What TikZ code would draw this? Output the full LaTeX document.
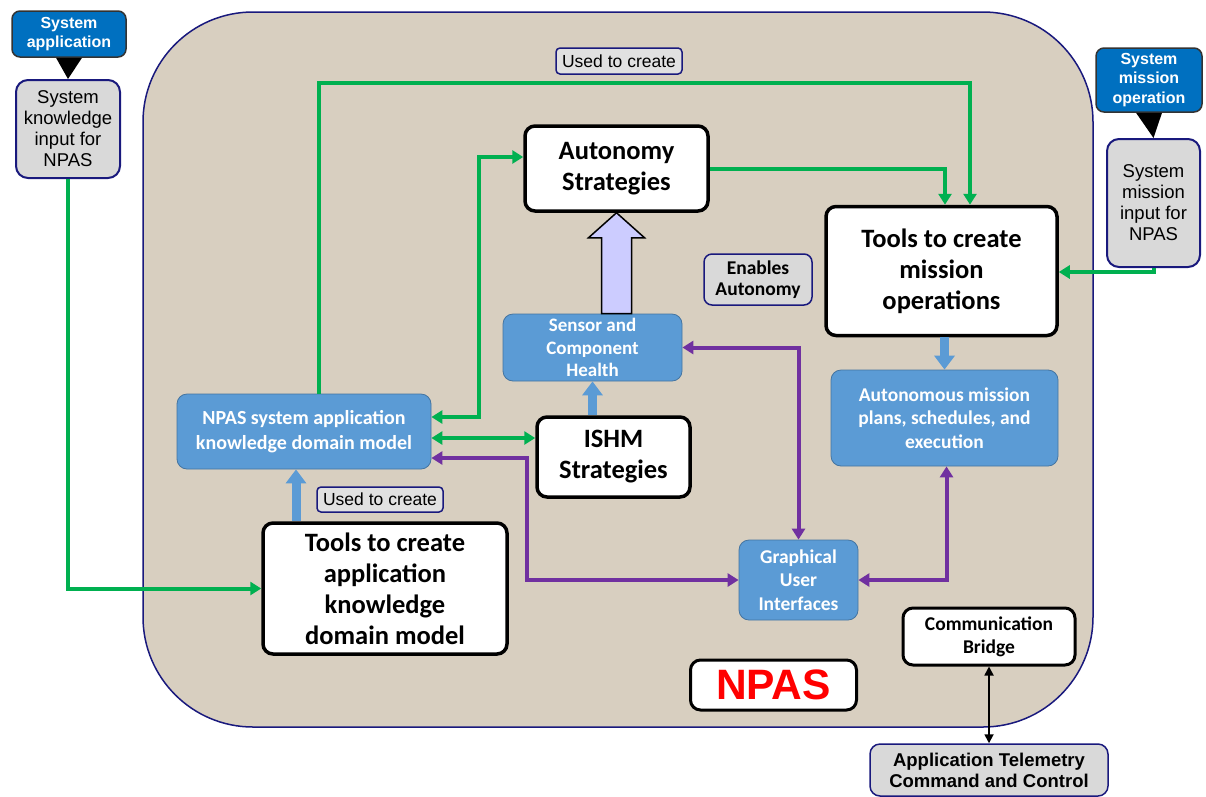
\documentclass[tikz,border=0pt]{standalone}
\usepackage{fontspec}
\setmainfont{Carlito}
\newfontfamily\arialfont{Liberation Sans}
\usetikzlibrary{arrows.meta,calc}
\definecolor{sandbg}{RGB}{216,207,192}
\definecolor{navyline}{RGB}{25,25,125}
\definecolor{grnline}{RGB}{0,176,80}
\definecolor{purpline}{RGB}{112,48,160}
\definecolor{bluebox}{RGB}{91,155,213}
\definecolor{darkblue}{RGB}{0,112,192}
\definecolor{greyfill}{RGB}{217,217,217}
\definecolor{lavender}{RGB}{204,204,255}

\begin{document}
\begin{tikzpicture}[x=1pt, y=-1pt,
    >={Triangle[length=11pt,width=13pt]},
    whitebox/.style={draw=black, line width=3.5pt, fill=white, rounded corners=10pt,
        align=center, inner sep=1pt, font=\bfseries\fontsize{26.5}{31}\selectfont},
    bluebx/.style={draw=bluebox!75!black, line width=0.8pt, fill=bluebox, rounded corners=10pt,
        align=center, inner sep=1pt, text=white, font=\bfseries\fontsize{19.5}{23.5}\selectfont},
    greybx/.style={draw=navyline, line width=2pt, fill=greyfill, rounded corners=12pt,
        align=center, inner sep=1pt, font=\arialfont\fontsize{18.5}{21}\selectfont},
    darkbx/.style={draw=black!80, line width=1.5pt, fill=darkblue, rounded corners=8pt,
        align=center, inner sep=1pt, text=white, font=\arialfont\bfseries\fontsize{16}{19.5}\selectfont},
    tagbx/.style={draw=navyline, line width=1.5pt, fill=greyfill!80!white, rounded corners=4pt,
        inner sep=1pt, font=\arialfont\fontsize{17.5}{19}\selectfont},
    grn/.style={draw=grnline, line width=4pt},
    purp/.style={draw=purpline, line width=4pt},
    bluearr/.style={draw=bluebox, line width=9pt, -{Triangle[length=14pt,width=20pt]}}]

        \useasboundingbox (0,0) rectangle (1206,796);

        % Background: NPAS area
        \draw[navyline, line width=1.5pt, fill=sandbg, rounded corners=110pt] (143,12) rectangle (1093,727);

        % Inputs on the left
        \node[darkbx, minimum width=114, minimum height=46] (sysapp) at (69,34) {System\\application};
        \node[greybx, minimum width=104, minimum height=98] (sysknow) at (68,129) {System\\knowledge\\input for\\NPAS};
        \fill ($(sysapp.south)+(-13,0)$) -- ($(sysapp.south)+(13,0)$) -- (sysknow.north) -- cycle;

        % Inputs on the right
        \node[darkbx, minimum width=106, minimum height=64] (sysmis) at (1149,80) {System\\mission\\operation};
        \node[greybx, minimum width=93, minimum height=128] (misin) at (1153.5,203) {System\\mission\\input for\\NPAS};
        \fill ($(sysmis.south)+(-13,0)$) -- ($(sysmis.south)+(13,0)$) -- (misin.north) -- cycle;

        % Strategies and tools
        \node[whitebox, minimum width=183, minimum height=85] (auto) at (616.5,168.5) {Autonomy\\Strategies};
        \node[whitebox, minimum width=231, minimum height=129] (toolmis) at (941.5,271) {Tools to create\\mission\\operations};
        \node[whitebox, minimum width=153, minimum height=80] (ishm) at (613.5,457) {ISHM\\Strategies};
        \node[whitebox, minimum width=244, minimum height=131] (toolapp) at (385,588.5) {Tools to create\\application\\knowledge\\domain model};

        % Blue boxes
        \node[bluebx, minimum width=179, minimum height=67, font=\bfseries\fontsize{19}{22.5}\selectfont] (sens) at (592.5,347.5) {Sensor and\\Component\\Health};
        \node[bluebx, minimum width=227, minimum height=96] (autmis) at (944.5,418) {Autonomous mission\\plans, schedules, and\\execution};
        \node[bluebx, minimum width=254, minimum height=75, font=\bfseries\fontsize{20}{25}\selectfont] (npasmod) at (304,431.5) {NPAS system application\\knowledge domain model};
        \node[bluebx, minimum width=119, minimum height=80] (gui) at (798.5,580) {Graphical\\User\\Interfaces};

        % Labels
        \node[tagbx, minimum width=126, minimum height=26] (used1) at (619,61) {Used to create};
        \node[tagbx, minimum width=126, minimum height=25] (used2) at (380,499.5) {Used to create};
        \node[greybx, rounded corners=8pt, line width=1.5pt, minimum width=108, minimum height=51,
            font=\bfseries\fontsize{19.5}{21}\selectfont] (enab) at (758,279.5) {Enables\\Autonomy};

        % Communication and NPAS
        \node[whitebox, line width=3pt, minimum width=172, minimum height=57,
            font=\bfseries\fontsize{19.5}{23}\selectfont] (comm) at (989,636.5) {Communication\\Bridge};
        \node[whitebox, line width=3pt, minimum width=166, minimum height=50, text=red,
            font=\arialfont\bfseries\fontsize{42.5}{45}\selectfont] (npas) at (773.5,685) {NPAS};
        \node[greybx, line width=1.5pt, rounded corners=10pt, minimum width=238, minimum height=52,
            font=\arialfont\bfseries\fontsize{18.5}{21}\selectfont] (telem) at (989,770) {Application Telemetry\\Command and Control};

        % Block arrow: Sensor -> Autonomy
        \coordinate (arrbase) at (auto.south |- sens.north);
        \filldraw[fill=lavender, draw=black, line width=1.5pt, line join=miter]
            ($(arrbase)+(-15,0)$) -- ($(auto.south)+(-15,25)$) -- ($(auto.south)+(-28,25)$)
            -- (auto.south) -- ($(auto.south)+(28,25)$) -- ($(auto.south)+(15,25)$)
            -- ($(arrbase)+(15,0)$) -- cycle;

        % Green connectors
        \coordinate (upstart) at ($(npasmod.north)+(15,0)$);
        \coordinate (toprail) at ($(used1.south)+(0,8)$);
        \coordinate (misdrop) at ($(toolmis.north)+(28.5,0)$);
        \coordinate (autodrop) at ($(toolmis.north)+(3.5,0)$);
        \coordinate (modtop) at ($(npasmod.east)+(0,-14.5)$);
        \coordinate (modmid) at ($(npasmod.east)+(0,6.5)$);
        \coordinate (autoin) at ($(auto.west)+(0,-11.5)$);
        \draw[grn,->] (sysknow.south) |- (toolapp.west);
        \draw[grn,->] (upstart) |- (toprail) -| (misdrop);
        \draw[grn,->] (auto.east) -| (autodrop);
        \draw[grn,<->] (modtop) -- ++(48,0) |- (autoin);
        \draw[grn,<->] (modmid) -- (modmid -| ishm.west);
        \draw[grn,->] (misin.south) |- ($(toolmis.east)+(0,1)$);

        % Blue arrows
        \coordinate (appup) at ($(npasmod.south)+(-8,0)$);
        \draw[bluearr] (appup |- toolapp.north) -- (appup);
        \draw[bluearr] (sens.south |- ishm.north) -- (sens.south);
        \draw[bluearr] (toolmis.south -| autmis.north) -- (autmis.north);

        % Purple connectors
        \coordinate (modlow) at ($(npasmod.east)+(0,26.5)$);
        \draw[purp,<->] (modlow) -- ++(96,0) |- (gui.west);
        \draw[purp,<->] (sens.east) -| (gui.north);
        \draw[purp,<->] (gui.east) -| ($(autmis.south)+(2,0)$);

        % Communication link
        \draw[line width=1.8pt, {Triangle[length=9pt,width=9pt]}-{Triangle[length=9pt,width=9pt]}] (comm.south) -- (comm.south |- telem.north);

    \end{tikzpicture}
\end{document}
